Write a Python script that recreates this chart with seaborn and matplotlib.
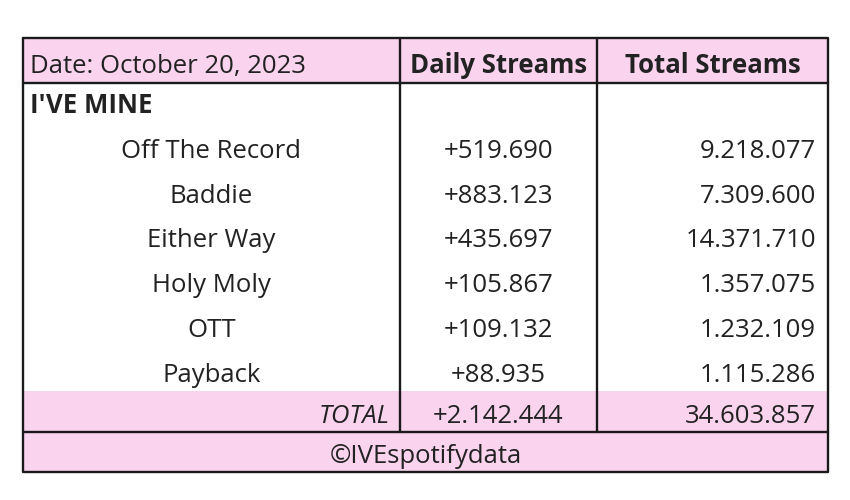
import matplotlib
matplotlib.use("Agg")
import matplotlib.pyplot as plt
import seaborn as sns
from matplotlib.patches import Rectangle

# --- datos ---
fecha = "Date: October 20, 2023"
album = "I'VE MINE"
canciones = ["Off The Record", "Baddie", "Either Way", "Holy Moly", "OTT", "Payback"]
diarios = [519690, 883123, 435697, 105867, 109132, 88935]
totales = [9218077, 7309600, 14371710, 1357075, 1232109, 1115286]
encabezados = ["Daily Streams", "Total Streams"]
credito = "©IVEspotifydata"


def fmt(n, signo=False):
    s = f"{n:,}".replace(",", ".")
    return "+" + s if signo else s


sns.set_theme(style="white")
plt.rcParams['font.family'] = ['Open Sans', 'DejaVu Sans']

rosa = "#fad3ef"
texto = "#222222"
borde = "#1a1a1a"

fig = plt.figure(figsize=(8.5, 5), dpi=100)
ax = fig.add_axes([0, 0, 1, 1])
ax.set_xlim(0, 850)
ax.set_ylim(500, 0)
ax.axis("off")

# geometria de la tabla (px)
x0, x1, x2, x3 = 23, 400, 597, 828
top, head_b = 38, 83
fila_h = 44.7
tot_top, tot_b, bot = 391, 432, 472

# lineas base del texto
base_head, base_album, base_fila0 = 73, 113, 158
base_tot, base_cred = 423, 463

# fondos rosados
ax.add_patch(Rectangle((x0, top), x3 - x0, head_b - top, color=rosa, lw=0))
ax.add_patch(Rectangle((x0, tot_top), x3 - x0, bot - tot_top, color=rosa, lw=0))

# bordes
lw = 1.7
ax.plot([x0, x3, x3, x0, x0], [top, top, bot, bot, top], color=borde, lw=lw)
ax.plot([x0, x3], [head_b, head_b], color=borde, lw=lw)
ax.plot([x0, x3], [tot_b, tot_b], color=borde, lw=lw)
for x in (x1, x2):
    ax.plot([x, x], [top, tot_b], color=borde, lw=lw)

fs = 18.5
c1 = (x0 + x1) / 2
c2 = (x1 + x2) / 2
c3 = (x2 + x3) / 2
kw = dict(va="baseline", fontsize=fs, color=texto)

ax.text(x0 + 7, base_head, fecha, ha="left", **kw)
ax.text(c2, base_head, encabezados[0], ha="center", fontweight="bold", **kw)
ax.text(c3, base_head, encabezados[1], ha="center", fontweight="bold", **kw)
ax.text(x0 + 7, base_album, album, ha="left", fontweight="bold", **kw)

for i, (c, d, t) in enumerate(zip(canciones, diarios, totales)):
    y = base_fila0 + i * fila_h
    ax.text(c1, y, c, ha="center", **kw)
    ax.text(c2, y, fmt(d, True), ha="center", **kw)
    ax.text(x3 - 12, y, fmt(t), ha="right", **kw)

ax.text(x1 - 10, base_tot, "TOTAL", ha="right", fontstyle="italic", **kw)
ax.text(c2, base_tot, fmt(sum(diarios), True), ha="center", **kw)
ax.text(x3 - 12, base_tot, fmt(sum(totales)), ha="right", **kw)

ax.text((x0 + x3) / 2, base_cred, credito, ha="center", **kw)

fig.savefig("out.png", dpi=100, facecolor="white")
